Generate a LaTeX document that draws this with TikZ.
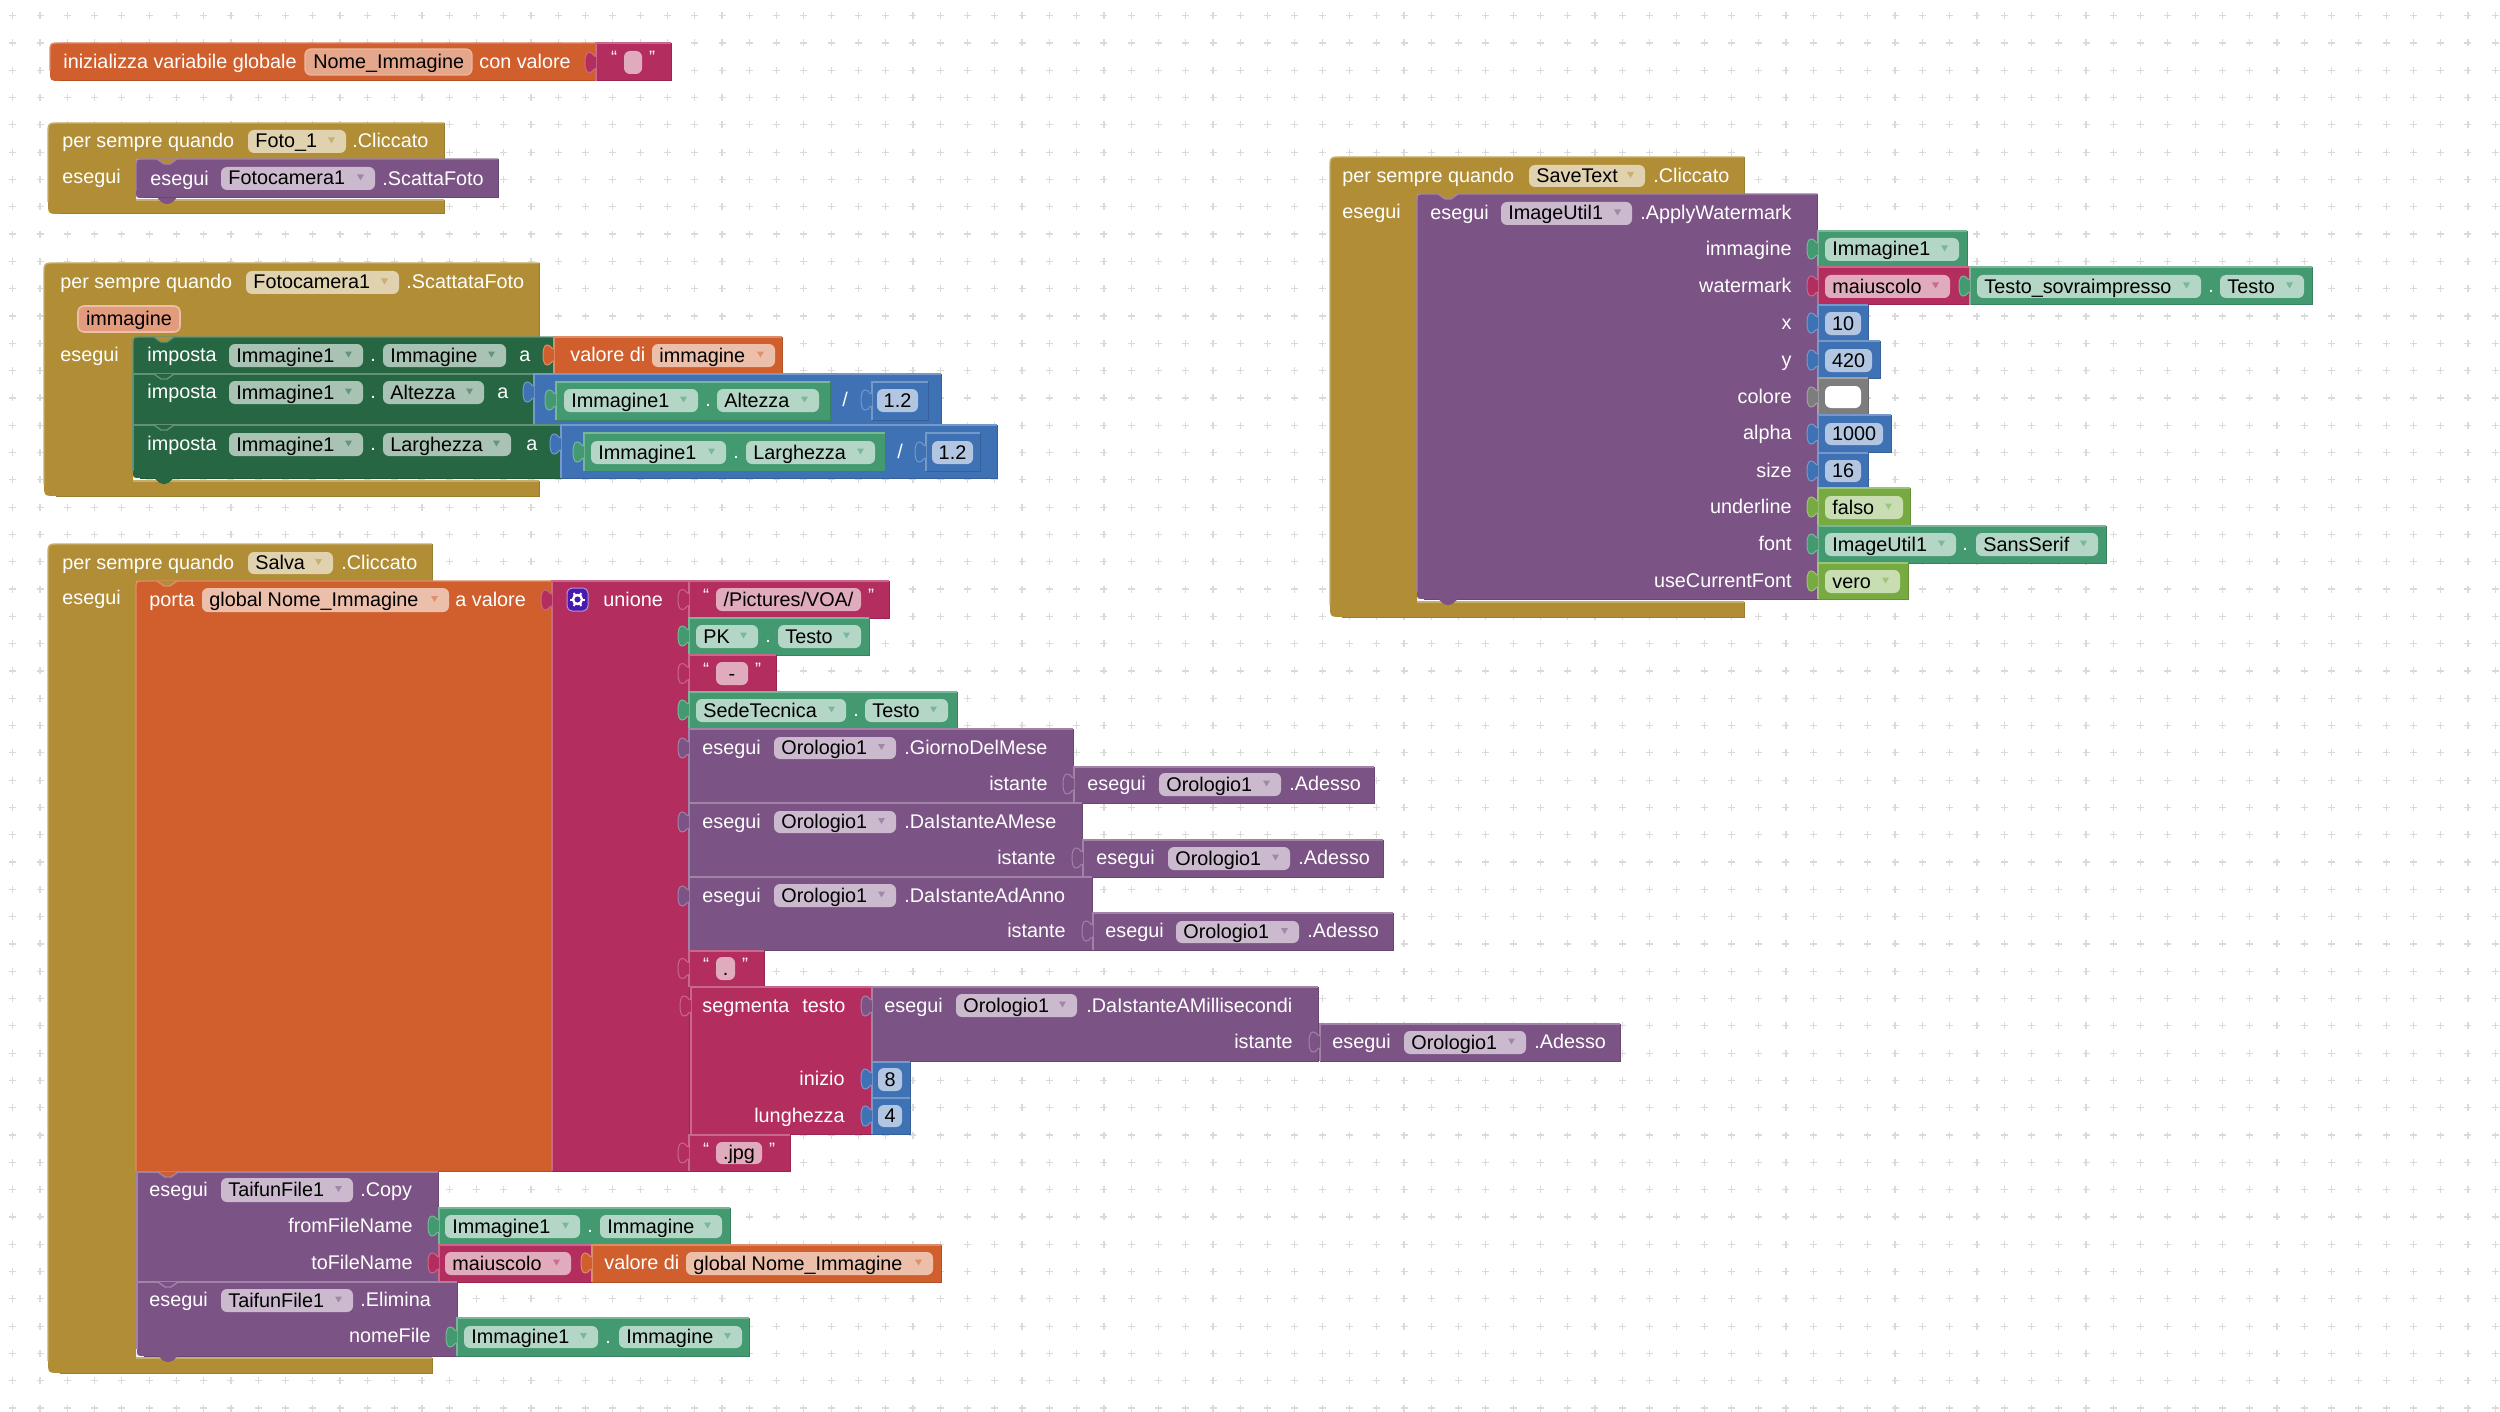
\documentclass[tikz,border=0pt]{standalone}
\usepackage{fontspec}
\setmainfont{Liberation Sans}
\definecolor{gold}{HTML}{B18E35}
\definecolor{purp}{HTML}{7C5385}
\definecolor{oran}{HTML}{D05F2D}
\definecolor{pink}{HTML}{B32D5E}
\definecolor{dgre}{HTML}{266643}
\definecolor{blue}{HTML}{3F71B5}
\definecolor{mint}{HTML}{439970}
\definecolor{lime}{HTML}{77AB41}
\definecolor{gray}{HTML}{7D7D7D}
\definecolor{indi}{HTML}{4A1AB0}
\definecolor{gridc}{HTML}{DADADA}
\newcounter{nn}
\tikzset{
  lab/.style={inner sep=0pt,font=\fontsize{9.9}{10}\selectfont},
  qte/.style={inner sep=0pt,font=\fontsize{9}{9}\selectfont,white},
}
% body of a block: colour, x1,y1,x2,y2, top-left radius, bottom-left radius
\newcommand\bks[7]{%
  \fill[#1] ({#2+#6},#3) -- (#4,#3) -- (#4,#5) -- ({#2+#7},#5) .. controls (#2,#5) .. (#2,{#5-#7}) -- (#2,{#3+#6}) .. controls (#2,#3) .. ({#2+#6},#3) -- cycle;
  \draw[#1!85!black,line width=.5pt] (#4,#3) -- (#4,#5) -- ({#2+#7},#5);
  \draw[#1!72!white,line width=.7pt] (#2,{#5-#7}) -- (#2,{#3+#6}) .. controls (#2,#3) .. ({#2+#6},#3) -- (#4,#3);
}
\newcommand\bkv[5]{\bks{#1}{#2}{#3}{#4}{#5}{0}{0}}
% value tab: colour, x, row centre
\newcommand\tabp[3]{%
  \fill[#1] (#2,{#3-6}) .. controls ({#2-3},{#3-6}) and ({#2-3},{#3-10}) .. ({#2-7},{#3-10}) .. controls ({#2-10},{#3-10}) and ({#2-11},{#3-5}) .. ({#2-11},{#3}) .. controls ({#2-11},{#3+5}) and ({#2-10},{#3+10}) .. ({#2-7},{#3+10}) .. controls ({#2-3},{#3+10}) and ({#2-3},{#3+6}) .. (#2,{#3+6}) -- cycle;
  \draw[#1!72!white,line width=.5pt] (#2,{#3-6}) .. controls ({#2-3},{#3-6}) and ({#2-3},{#3-10}) .. ({#2-7},{#3-10}) .. controls ({#2-10},{#3-10}) and ({#2-11},{#3-5}) .. ({#2-11},{#3}) .. controls ({#2-11},{#3+5}) and ({#2-10},{#3+10}) .. ({#2-7},{#3+10}) .. controls ({#2-3},{#3+10}) and ({#2-3},{#3+6}) .. (#2,{#3+6});
}
% top notch: x of block, y, fill, line
\newcommand\notch[4]{%
  \fill[#3] ({#1+21},#2) -- ({#1+28},{#2+5}) -- ({#1+34},{#2+5}) -- ({#1+41},#2) -- cycle;
  \draw[#4,line width=.7pt] ({#1+21},#2) -- ({#1+28},{#2+5}) -- ({#1+34},{#2+5}) -- ({#1+41},#2);
}
% bottom tab
\newcommand\dtab[3]{\fill[#1,rounded corners=1pt] ({#2+21},#3) -- ({#2+28},{#3+6}) -- ({#2+34},{#3+6}) -- ({#2+41},#3) -- cycle;}
% event block: x0,y0,xh,yhb,xi,y1,y2
\newcommand\hatb[7]{%
  \fill[gold] (#3,#7) -- ({#1+12},#7) .. controls (#1,#7) .. (#1,{#7-12}) -- (#1,{#2+12}) .. controls (#1,#2) .. ({#1+12},#2) -- (#3,#2) -- (#3,#4) -- (#5,#4) -- (#5,#6) -- (#3,#6) -- cycle;
  \draw[gold!72!white,line width=.7pt] (#1,{#7-12}) -- (#1,{#2+12}) .. controls (#1,#2) .. ({#1+12},#2) -- (#3,#2);
  \draw[gold!88!black,line width=.5pt] (#3,#2) -- (#3,#4);
  \draw[gold!88!black,line width=.5pt] (#3,#6) -- (#3,#7) -- ({#1+12},#7);
  \draw[gold!72!white,line width=.7pt] (#5,#6) -- (#3,#6);
}
% white text, left or right aligned: x, row centre, text
\newcommand\tw[3]{\stepcounter{nn}\node[lab,white,anchor=base west] (t\arabic{nn}) at (#1,{#2+6.7}) {#3};}
\newcommand\tra[3]{\stepcounter{nn}\node[lab,white,anchor=base east] (t\arabic{nn}) at (#1,{#2+6.7}) {#3};}
% field: colour, x1,x2,y1,y2,text (no arrow)
\newcommand\fldn[6]{%
  \stepcounter{nn}
  \fill[#1!40!white,rounded corners=3pt] (#2,#4) rectangle (#3,#5);
  \node[lab,black,anchor=base west] (t\arabic{nn}) at ({#2+7},{(#4+#5)/2+6.5}) {#6};
}
% field with drop-down arrow
\newcommand\fldd[6]{%
  \fldn{#1}{#2}{#3}{#4}{#5}{#6}
  \fill[#1!70!white] ({#3-18},{(#4+#5)/2-4}) -- ({#3-11},{(#4+#5)/2-4}) -- ({#3-14.5},{(#4+#5)/2+2}) -- cycle;
}
% centred number / string field
\newcommand\fldc[6]{%
  \stepcounter{nn}
  \fill[#1!40!white,rounded corners=3pt] (#2,#4) rectangle (#3,#5);
  \node[lab,black,anchor=base] (t\arabic{nn}) at ({(#2+#3)/2},{(#4+#5)/2+6.5}) {#6};
}
% string block: x1,y1,x2,y2,fx1,fx2,fy1,fy2,text
\newcommand\strb[9]{%
  \bkv{pink}{#1}{#2}{#3}{#4}
  \tabp{pink}{#1}{(#7+#8)/2}
  \fldc{pink}{#5}{#6}{#7}{#8}{#9}
  \stepcounter{nn}\node[qte,anchor=base] (t\arabic{nn}) at ({#5-10},{#7+13}) {“};
  \stepcounter{nn}\node[qte,anchor=base] (t\arabic{nn}) at ({#6+10},{#7+13}) {”};
}
\begin{document}
\begin{tikzpicture}[x=0.5pt,y=-0.5pt]
\useasboundingbox (0,0) rectangle (2500,1412);
\fill[white] (0,0) rectangle (2500,1412);
\draw[gridc,line width=.6pt] \foreach \i in {-1,...,90} { \foreach \j in {-1,...,50} {
  ({40+27.28*\i-3.5},{43+27.3*\j}) -- ({40+27.28*\i+3.5},{43+27.3*\j})
  ({40+27.28*\i},{43+27.3*\j-3.5}) -- ({40+27.28*\i},{43+27.3*\j+3.5}) } };

%%% global variable
\bks{oran}{50}{43}{596}{81}{10}{10}
\tw{63}{62}{inizializza variabile globale}
\fill[oran!55!white,rounded corners=3pt,draw=oran!45!white,line width=.6pt] (305,49) rectangle (472,75);
\stepcounter{nn}\node[lab,black,anchor=base west] (t\arabic{nn}) at (313,68.5) {Nome\_Immagine};
\tw{479}{62}{con valore}
\strb{596}{43}{671}{81}{624}{642}{51}{74}{}

%%% Foto_1
\hatb{48}{123}{444}{159}{136}{200}{214}
\tw{62}{141}{per sempre quando}
\fldd{gold}{248}{346}{130}{153}{Foto\_1}
\tw{352}{141}{.Cliccato}
\tw{62}{177}{esegui}
\bks{purp}{136}{159}{498}{198}{7}{7}
\notch{136}{159}{gold}{purp!72!white}
\dtab{purp}{136}{198}
\tw{150}{179}{esegui}
\fldd{purp}{221}{375}{167}{190}{Fotocamera1}
\tw{382}{179}{.ScattaFoto}

%%% Fotocamera1.ScattataFoto
\hatb{44}{263}{539}{337}{133}{481}{496}
\tw{60}{282}{per sempre quando}
\fldd{gold}{246}{399}{271}{294}{Fotocamera1}
\tw{406}{282}{.ScattataFoto}
\fill[oran!62!white,rounded corners=3pt,draw=oran!40!white,line width=.8pt] (78,306) rectangle (180,332);
\stepcounter{nn}\node[lab,black,anchor=base] (t\arabic{nn}) at (129,325.5) {immagine};
\tw{60}{355}{esegui}
% row 1
\bks{dgre}{133}{337}{554}{374}{7}{0}
\notch{133}{337}{gold}{dgre!72!white}
\tw{147}{355}{imposta}
\fldd{dgre}{229}{363}{344}{367}{Immagine1}
\tw{370}{355}{.}
\fldd{dgre}{383}{506}{344}{367}{Immagine}
\tw{519}{355}{a}
\bkv{oran}{554}{337}{782}{374}
\tabp{oran}{554}{355}
\tw{570}{355}{valore di}
\fldd{oran}{652}{775}{344}{367}{immagine}
% row 2
\bkv{dgre}{133}{374}{534}{425}
\notch{133}{374}{dgre}{dgre!72!white}
\tw{147}{392}{imposta}
\fldd{dgre}{229}{363}{381}{404}{Immagine1}
\tw{370}{392}{.}
\fldd{dgre}{383}{484}{381}{404}{Altezza}
\tw{497}{392}{a}
\bkv{blue}{534}{374}{941}{425}
\tabp{blue}{534}{392}
\bkv{mint}{556}{382}{830}{420}
\tabp{mint}{556}{400}
\fldd{mint}{564}{698}{389}{412}{Immagine1}
\tw{705}{400}{.}
\fldd{mint}{717}{819}{389}{412}{Altezza}
\tw{842}{400}{/}
\bkv{blue}{872}{382}{928}{420}
\tabp{blue}{872}{400}
\fldc{blue}{877}{918}{389}{412}{1.2}
% row 3
\bks{dgre}{133}{425}{561}{478}{0}{7}
\notch{133}{425}{dgre}{dgre!72!white}
\dtab{dgre}{133}{478}
\tw{147}{444}{imposta}
\fldd{dgre}{229}{363}{433}{456}{Immagine1}
\tw{370}{444}{.}
\fldd{dgre}{383}{511}{433}{456}{Larghezza}
\tw{526}{444}{a}
\bkv{blue}{561}{425}{997}{478}
\tabp{blue}{561}{444}
\bkv{mint}{584}{433}{885}{471}
\tabp{mint}{584}{452}
\fldd{mint}{591}{726}{441}{464}{Immagine1}
\tw{733}{452}{.}
\fldd{mint}{746}{875}{441}{464}{Larghezza}
\tw{897}{452}{/}
\bkv{blue}{926}{433}{980}{471}
\tabp{blue}{926}{452}
\fldc{blue}{932}{973}{441}{464}{1.2}

%%% Salva
\hatb{48}{544}{432}{581}{136}{1358}{1373}
\tw{62}{563}{per sempre quando}
\fldd{gold}{248}{333}{552}{574}{Salva}
\tw{341}{563}{.Cliccato}
\tw{62}{598}{esegui}
\bks{oran}{136}{581}{552}{1171}{7}{0}
\notch{136}{581}{gold}{oran!72!white}
\tw{149}{600}{porta}
\fldd{oran}{202}{449}{588}{612}{global Nome\_Immagine}
\tw{455}{600}{a valore}
\bkv{pink}{552}{581}{689}{1171}
\tabp{pink}{552}{600}
\fill[indi,rounded corners=2.5pt,draw=indi!45!white,line width=.5pt] (567,588) rectangle (588,611);
\draw[white,line width=1.2pt] (577.5,599.5) circle [radius=4.5];
\foreach \a in {0,60,...,300} {\draw[white,line width=1pt] ({577.5+4.5*cos(\a)},{599.5+4.5*sin(\a)}) -- ({577.5+7.5*cos(\a)},{599.5+7.5*sin(\a)});}
\tw{603}{600}{unione}
\strb{689}{581}{889}{618}{716}{861}{588}{611}{/Pictures/VOA/}
\bkv{mint}{689}{618}{869}{655}
\tabp{mint}{689}{636}
\fldd{mint}{696}{758}{625}{648}{PK}
\tw{765}{636}{.}
\fldd{mint}{778}{861}{625}{648}{Testo}
\strb{689}{655}{776}{691}{716}{748}{662}{685}{-}
\bkv{mint}{689}{692}{957}{729}
\tabp{mint}{689}{710}
\fldd{mint}{696}{846}{699}{722}{SedeTecnica}
\tw{853}{710}{.}
\fldd{mint}{865}{948}{699}{722}{Testo}
% Giorno
\bkv{purp}{689}{729}{1073}{803}
\tabp{purp}{689}{748}
\tw{702}{748}{esegui}
\fldd{purp}{774}{896}{737}{759}{Orologio1}
\tw{904}{748}{.GiornoDelMese}
\tra{1048}{784}{istante}
\bkv{purp}{1074}{767}{1374}{803}
\tabp{purp}{1074}{784}
\tw{1087}{784}{esegui}
\fldd{purp}{1159}{1281}{773}{796}{Orologio1}
\tw{1289}{784}{.Adesso}
% Mese
\bkv{purp}{689}{803}{1082}{877}
\tabp{purp}{689}{822}
\tw{702}{822}{esegui}
\fldd{purp}{774}{896}{811}{833}{Orologio1}
\tw{904}{822}{.DaIstanteAMese}
\tra{1056}{858}{istante}
\bkv{purp}{1083}{840}{1383}{877}
\tabp{purp}{1083}{858}
\tw{1096}{858}{esegui}
\fldd{purp}{1168}{1290}{847}{870}{Orologio1}
\tw{1298}{858}{.Adesso}
% Anno
\bkv{purp}{689}{877}{1092}{950}
\tabp{purp}{689}{896}
\tw{702}{896}{esegui}
\fldd{purp}{774}{896}{884}{907}{Orologio1}
\tw{904}{896}{.DaIstanteAdAnno}
\tra{1066}{931}{istante}
\bkv{purp}{1093}{913}{1393}{950}
\tabp{purp}{1093}{931}
\tw{1105}{931}{esegui}
\fldd{purp}{1176}{1299}{921}{943}{Orologio1}
\tw{1307}{931}{.Adesso}
% dot
\strb{689}{951}{764}{987}{716}{735}{957}{980}{.}
% segmenta
\bkv{pink}{691}{987}{871}{1134}
\tabp{pink}{691}{1006}
\tw{702}{1006}{segmenta}
\tw{802}{1006}{testo}
\bkv{purp}{872}{987}{1318}{1061}
\tabp{purp}{872}{1006}
\tw{884}{1006}{esegui}
\fldd{purp}{956}{1077}{994}{1017}{Orologio1}
\tw{1086}{1006}{.DaIstanteAMillisecondi}
\tra{1293}{1042}{istante}
\bkv{purp}{1320}{1024}{1620}{1061}
\tabp{purp}{1320}{1042}
\tw{1332}{1042}{esegui}
\fldd{purp}{1404}{1526}{1031}{1054}{Orologio1}
\tw{1534}{1042}{.Adesso}
\tra{845}{1079}{inizio}
\bkv{blue}{872}{1062}{910}{1098}
\tabp{blue}{872}{1079}
\fldc{blue}{878}{902}{1068}{1091}{8}
\tra{845}{1116}{lunghezza}
\bkv{blue}{872}{1098}{910}{1134}
\tabp{blue}{872}{1116}
\fldc{blue}{878}{902}{1105}{1127}{4}
\strb{689}{1135}{790}{1171}{716}{762}{1142}{1164}{.jpg}
% Copy
\bkv{purp}{137}{1172}{438}{1282}
\notch{137}{1172}{oran}{purp!72!white}
\tw{149}{1190}{esegui}
\fldd{purp}{221}{353}{1178}{1202}{TaifunFile1}
\tw{360}{1190}{.Copy}
\tra{413}{1226}{fromFileName}
\bkv{mint}{439}{1208}{730}{1245}
\tabp{mint}{439}{1226}
\fldd{mint}{445}{580}{1215}{1238}{Immagine1}
\tw{587}{1226}{.}
\fldd{mint}{600}{722}{1215}{1238}{Immagine}
\tra{413}{1263}{toFileName}
\bkv{pink}{439}{1245}{591}{1282}
\tabp{pink}{439}{1263}
\fldd{pink}{445}{571}{1252}{1275}{maiuscolo}
\bkv{oran}{592}{1245}{941}{1282}
\tabp{oran}{592}{1263}
\tw{604}{1263}{valore di}
\fldd{oran}{686}{933}{1252}{1275}{global Nome\_Immagine}
% Elimina
\bks{purp}{137}{1282}{457}{1356}{0}{7}
\notch{137}{1282}{purp}{purp!72!white}
\dtab{purp}{137}{1356}
\tw{149}{1300}{esegui}
\fldd{purp}{221}{353}{1289}{1312}{TaifunFile1}
\tw{360}{1300}{.Elimina}
\tra{431}{1336}{nomeFile}
\bkv{mint}{457}{1318}{749}{1356}
\tabp{mint}{457}{1337}
\fldd{mint}{464}{598}{1326}{1348}{Immagine1}
\tw{605}{1337}{.}
\fldd{mint}{619}{742}{1326}{1348}{Immagine}

%%% SaveText
\hatb{1330}{157}{1744}{194}{1417}{602}{617}
\tw{1342}{176}{per sempre quando}
\fldd{gold}{1529}{1645}{165}{187}{SaveText}
\tw{1653}{176}{.Cliccato}
\tw{1342}{212}{esegui}
\bks{purp}{1417}{194}{1817}{599}{7}{7}
\notch{1417}{194}{gold}{purp!72!white}
\dtab{purp}{1417}{599}
\tw{1430}{213}{esegui}
\fldd{purp}{1501}{1632}{202}{225}{ImageUtil1}
\tw{1640}{213}{.ApplyWatermark}
\tra{1792}{249}{immagine}
\bkv{mint}{1818}{231}{1967}{267}
\tabp{mint}{1818}{249}
\fldd{mint}{1825}{1959}{238}{261}{Immagine1}
\tra{1792}{286}{watermark}
\bkv{pink}{1818}{267}{1969}{305}
\tabp{pink}{1818}{286}
\fldd{pink}{1825}{1950}{275}{298}{maiuscolo}
\bkv{mint}{1970}{267}{2312}{305}
\tabp{mint}{1970}{286}
\fldd{mint}{1977}{2201}{275}{298}{Testo\_sovraimpresso}
\tw{2208}{286}{.}
\fldd{mint}{2220}{2304}{275}{298}{Testo}
\tra{1792}{323}{x}
\bkv{blue}{1818}{305}{1868}{341}
\tabp{blue}{1818}{323}
\fldc{blue}{1825}{1861}{312}{335}{10}
\tra{1792}{360}{y}
\bkv{blue}{1818}{341}{1880}{378}
\tabp{blue}{1818}{360}
\fldc{blue}{1825}{1872}{349}{372}{420}
\tra{1792}{397}{colore}
\bkv{gray}{1818}{378}{1868}{414}
\tabp{gray}{1818}{397}
\fill[white,rounded corners=3pt] (1825,386) rectangle (1861,408);
\tra{1792}{433}{alpha}
\bkv{blue}{1818}{415}{1891}{452}
\tabp{blue}{1818}{434}
\fldc{blue}{1825}{1883}{423}{445}{1000}
\tra{1792}{471}{size}
\bkv{blue}{1818}{453}{1868}{488}
\tabp{blue}{1818}{471}
\fldc{blue}{1825}{1861}{460}{482}{16}
\tra{1792}{507}{underline}
\bkv{lime}{1818}{488}{1910}{526}
\tabp{lime}{1818}{507}
\fldd{lime}{1825}{1903}{496}{519}{falso}
\tra{1792}{544}{font}
\bkv{mint}{1818}{526}{2106}{563}
\tabp{mint}{1818}{544}
\fldd{mint}{1825}{1956}{533}{556}{ImageUtil1}
\tw{1962}{544}{.}
\fldd{mint}{1976}{2098}{533}{556}{SansSerif}
\tra{1792}{581}{useCurrentFont}
\bkv{lime}{1818}{563}{1908}{599}
\tabp{lime}{1818}{581}
\fldd{lime}{1825}{1900}{570}{593}{vero}
\end{tikzpicture}
\end{document}
